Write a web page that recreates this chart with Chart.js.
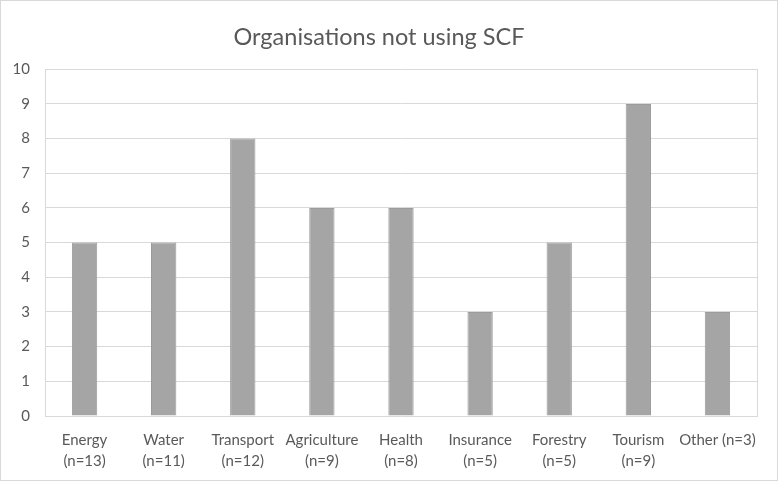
<!DOCTYPE html>
<html>
<head>
<meta charset="utf-8">
<script src="https://cdn.jsdelivr.net/npm/chart.js@4"></script>
<style>
  html, body { margin: 0; padding: 0; background: #fff; }
  #wrap { width: 776px; height: 479px; border: 1px solid #d9d9d9; position: relative; }
</style>
</head>
<body>
<div id="wrap"><canvas id="graph" width="776" height="479"></canvas></div>
<script>
// カテゴリと値
var categories = [
  ["Energy", "(n=13)"], ["Water", "(n=11)"], ["Transport", "(n=12)"],
  ["Agriculture", "(n=9)"], ["Health", "(n=8)"], ["Insurance", "(n=5)"],
  ["Forestry", "(n=5)"], ["Tourism", "(n=9)"], "Other (n=3)"
];
var notUsing = [5, 5, 8, 6, 6, 3, 5, 9, 3];
var yTicks = [0, 1, 2, 3, 4, 5, 6, 7, 8, 9, 10];

var ctx = document.getElementById("graph").getContext("2d");
var font = "Lato, 'Open Sans', sans-serif";

var myChart = new Chart(ctx, {
  type: "bar",
  data: {
    labels: categories,
    datasets: [{
      label: "Organisations not using SCF",
      data: notUsing,
      backgroundColor: "#a5a5a5",
      borderColor: "#9b9b9b",
      borderWidth: 1,
      categoryPercentage: 1,
      barPercentage: 0.32
    }]
  },
  options: {
    responsive: false,
    animation: false,
    layout: { padding: { left: 0, right: 20, top: 10, bottom: 0 } },
    plugins: {
      legend: { display: false },
      tooltip: { enabled: false },
      title: {
        display: true,
        text: "Organisations not using SCF",
        color: "#595959",
        font: { family: font, size: 23.5, weight: "normal" },
        padding: { top: 12, bottom: 18 }
      }
    },
    scales: {
      x: {
        grid: { display: false },
        border: { display: false },
        ticks: {
          color: "#595959",
          font: { family: font, size: 15, lineHeight: 1.4 },
          maxRotation: 0,
          autoSkip: false,
          padding: 6
        },
        afterFit: function(s) { s.height = 64; }
      },
      y: {
        min: 0,
        max: 10,
        afterBuildTicks: function(s) { s.ticks = yTicks.map(function(v) { return { value: v }; }); },
        grid: { color: "#d9d9d9", drawTicks: false },
        border: { display: true, color: "#d9d9d9" },
        ticks: {
          color: "#595959",
          font: { family: font, size: 15 },
          padding: 15
        },
        afterFit: function(s) { s.width = 44; }
      },
      y2: {
        position: "right",
        min: 0,
        max: 10,
        grid: { drawOnChartArea: false, drawTicks: false },
        border: { display: true, color: "#d9d9d9" },
        ticks: { display: false },
        afterFit: function(s) { s.width = 0; }
      }
    }
  }
});
</script>
</body>
</html>
